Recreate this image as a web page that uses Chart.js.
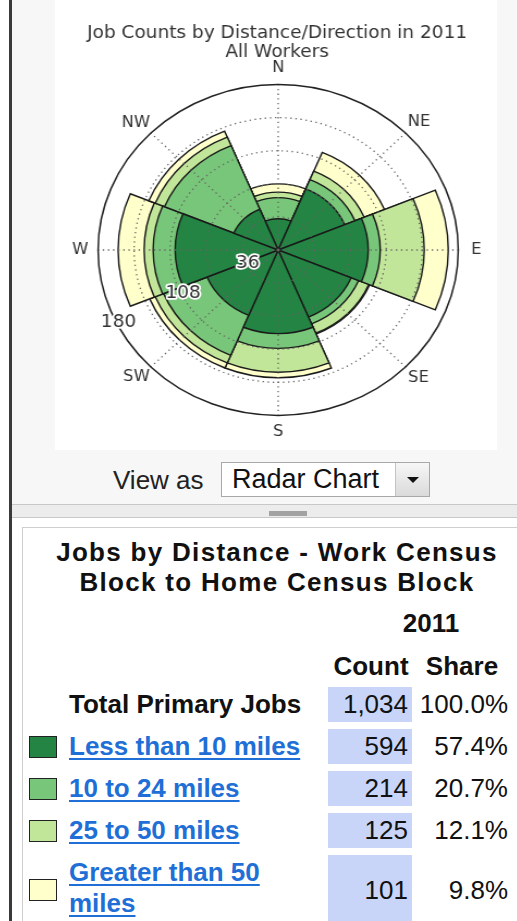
<!DOCTYPE html>
<html>
<head>
<meta charset="utf-8">
<script src="https://cdn.jsdelivr.net/npm/chart.js@4.4.1/dist/chart.umd.min.js"></script>
<style>
  html, body { margin: 0; padding: 0; }
  body {
    position: relative;
    width: 517px;
    height: 921px;
    overflow: hidden;
    background: #fff;
    font-family: "Liberation Sans", Arial, sans-serif;
    color: #111;
  }
  .panel { position: absolute; left: 12px; top: 0; width: 505px; height: 504px; background: #f7f7f7; }
  .frame { position: absolute; left: 9px; top: 0; width: 3px; height: 921px; background: #3a3a3a; }
  .plot { position: absolute; left: 55px; top: 0; width: 442px; height: 450px; background: #fff; }
  #rose { display: block; }

  .view-label { position: absolute; left: 113px; top: 465px; font-size: 26px; line-height: 30px; color: #222; }
  .select {
    position: absolute; left: 221px; top: 462px; width: 209px; height: 35px;
    box-sizing: border-box; border: 1px solid #a8a8a8; background: #fff;
  }
  .select span { position: absolute; left: 10px; top: 1px; font-size: 27px; line-height: 31px; color: #111; }
  .select .btn {
    position: absolute; right: 0; top: 0; width: 33px; height: 33px;
    border-left: 1px solid #c4c4c4; background: linear-gradient(#f6f6f6, #dadada);
  }
  .select .btn i {
    position: absolute; left: 11px; top: 14px; width: 0; height: 0;
    border-left: 6px solid transparent; border-right: 6px solid transparent; border-top: 6px solid #111;
  }

  .split { position: absolute; left: 12px; top: 504px; width: 505px; height: 12px; background: #ececec;
    border-top: 1px solid #c8c8c8; border-bottom: 1px solid #c8c8c8; }
  .grip { position: absolute; left: 257px; top: 6px; width: 38px; height: 5px; background: #a2a2a2; }

  .box { position: absolute; left: 22px; top: 527px; width: 520px; height: 420px;
    border: 1px solid #cfcfcf; background: #fff; }

  .heading { position: absolute; left: 22px; top: 537px; width: 510px; text-align: center;
    font-weight: bold; font-size: 26px; line-height: 30px; letter-spacing: 1.3px; }
  .year { position: absolute; left: 395px; top: 608px; width: 72px; text-align: center;
    font-weight: bold; font-size: 26px; line-height: 30px; }
  .colhead { position: absolute; top: 651px; width: 100px; text-align: center;
    font-weight: bold; font-size: 26px; line-height: 30px; }

  .row { position: absolute; left: 0; width: 517px; }
  .row .name { position: absolute; left: 69px; width: 252px; font-weight: bold; font-size: 26px; }
  .row .name a { color: #1f6fd6; text-decoration: underline; text-decoration-thickness: 2px; text-underline-offset: 3px; }
  .row .swatch { position: absolute; left: 29px; width: 26px; height: 20px; border: 1.5px solid #222; }
  .row .count { position: absolute; left: 328px; top: 0; width: 84px; height: 100%; box-sizing: border-box;
    padding-right: 4px; background: #c8d5f9; text-align: right; font-size: 26px; }
  .row .share { position: absolute; left: 412px; top: 0; width: 96px; height: 100%; text-align: right; font-size: 26px; }
</style>
</head>
<body>
<div class="panel"></div>
<div class="frame"></div>
<div class="plot"><canvas id="rose" width="406" height="450" style="width:442px;height:450px"></canvas></div>

<div class="view-label">View as</div>
<div class="select"><span>Radar Chart</span><div class="btn"><i></i></div></div>

<div class="split"><div class="grip"></div></div>
<div class="box"></div>

<div class="heading">Jobs by Distance - Work Census<br>Block to Home Census Block</div>
<div class="year">2011</div>
<div class="colhead" style="left:321px">Count</div>
<div class="colhead" style="left:412px">Share</div>
<div id="rows"></div>

<script>
const DIRECTIONS = ['N', 'NE', 'E', 'SE', 'S', 'SW', 'W', 'NW'];

// jobs per direction, one array per distance band
const LESS_THAN_10 = [34, 72, 90, 79, 91, 77, 103, 48];
const FROM_10_TO_24 = [23, 11, 12, 8, 16, 47, 22, 75];
const FROM_25_TO_50 = [6, 10, 44, 11, 26, 9, 9, 10];
const OVER_50 = [9, 22, 24, 1, 6, 6, 26, 7];

const R_MAX = 180;
const R_STEP = 36;
const R_TICK_LABELS = ['36', '108', '180'];

const CATEGORIES = ['Less than 10 miles', '10 to 24 miles', '25 to 50 miles', 'Greater than 50 miles'];
const COUNTS = ['594', '214', '125', '101'];
const SHARES = ['57.4%', '20.7%', '12.1%', '9.8%'];
const TOTAL_COUNT = '1,034';
const TOTAL_SHARE = '100.0%';

const COLORS = ['#238443', '#78c679', '#c2e699', '#ffffcc'];
const LABEL_PAD = [7.5, 2.8, 11.75, 3.4, 7.5, 1.5, 9.1, 0.9];

// cumulative rings, so each band sits on the one inside it
function addUp(a, b) {
  return a.map((v, i) => v + b[i]);
}

const ring1 = LESS_THAN_10;
const ring2 = addUp(ring1, FROM_10_TO_24);
const ring3 = addUp(ring2, FROM_25_TO_50);
const ring4 = addUp(ring3, OVER_50);

const roseExtras = {
  id: 'roseExtras',
  afterDatasetsDraw(chart) {
    const scale = chart.scales.r;
    const ctx = chart.ctx;
    ctx.save();
    ctx.strokeStyle = '#666';
    ctx.lineWidth = 1.3;
    ctx.setLineDash([1.3, 3.4]);
    DIRECTIONS.forEach((d, i) => {
      const end = scale.getPointPosition(i, scale.drawingArea, Math.PI / DIRECTIONS.length);
      ctx.beginPath();
      ctx.moveTo(scale.xCenter, scale.yCenter);
      ctx.lineTo(end.x, end.y);
      ctx.stroke();
    });
    ctx.restore();
  },
  afterDraw(chart) {
    const scale = chart.scales.r;
    const ctx = chart.ctx;
    ctx.save();
    ctx.font = '17px "DejaVu Sans"';
    ctx.textAlign = 'center';
    ctx.textBaseline = 'middle';
    ctx.lineJoin = 'round';
    R_TICK_LABELS.forEach((label) => {
      const dist = scale.getDistanceFromCenterForValue(Number(label) - 2);
      const p = scale.getPointPosition(0, dist, -Math.PI / 2 - Math.PI / 48);
      ctx.strokeStyle = '#fff';
      ctx.lineWidth = 3.5;
      ctx.strokeText(label, p.x, p.y);
      ctx.fillStyle = '#333';
      ctx.fillText(label, p.x, p.y);
    });
    ctx.restore();
  },
};

function ringDataset(label, data, color) {
  return {
    label: label,
    data: data,
    backgroundColor: color,
    borderColor: '#1a1a1a',
    borderWidth: 1.4,
    borderJoinStyle: 'miter',
  };
}

new Chart(document.getElementById('rose'), {
  type: 'polarArea',
  data: {
    labels: DIRECTIONS,
    datasets: [
      ringDataset(CATEGORIES[0], ring1, COLORS[0]),
      ringDataset(CATEGORIES[1], ring2, COLORS[1]),
      ringDataset(CATEGORIES[2], ring3, COLORS[2]),
      ringDataset(CATEGORIES[3], ring4, COLORS[3]),
    ],
  },
  options: {
    responsive: false,
    animation: false,
    events: [],
    layout: { padding: { left: 12, right: 10, top: 0, bottom: 8 } },
    plugins: {
      legend: { display: false },
      tooltip: { enabled: false },
      title: {
        display: true,
        text: ['Job Counts by Distance/Direction in 2011', 'All Workers'],
        color: '#333',
        font: { family: 'DejaVu Sans', size: 17, weight: 'normal', lineHeight: 1.12 },
        padding: { top: 24.5, bottom: -3.5 },
      },
    },
    scales: {
      r: {
        min: 0,
        max: R_MAX,
        // half a sector back, so each wedge is centred on its compass point
        startAngle: -180 / DIRECTIONS.length,
        ticks: { display: false, stepSize: R_STEP },
        angleLines: { display: false },
        grid: {
          z: 1,
          circular: true,
          color: (ctx) => (ctx.tick && ctx.tick.value === R_MAX ? '#222' : '#666'),
          lineWidth: (ctx) => (ctx.tick && ctx.tick.value === R_MAX ? 1.5 : 1.3),
        },
        border: {
          dash: (ctx) => (ctx.tick && ctx.tick.value === R_MAX ? [] : [1.3, 3.4]),
        },
        pointLabels: {
          display: true,
          centerPointLabels: true,
          color: '#333',
          font: { family: 'DejaVu Sans', size: 15 },
          padding: (ctx) => LABEL_PAD[ctx.index],
        },
      },
    },
  },
  plugins: [roseExtras],
});

// table below the chart
const ROW_TOPS = [729, 771, 813, 855];
const ROW_HEIGHTS = [35, 35, 35, 70];
const rowsEl = document.getElementById('rows');

let html = '<div class="row" style="top:687px;height:35px;line-height:35px">' +
  '<div class="name" style="color:#111">Total Primary Jobs</div>' +
  '<div class="count">' + TOTAL_COUNT + '</div>' +
  '<div class="share">' + TOTAL_SHARE + '</div></div>';

CATEGORIES.forEach((name, i) => {
  const h = ROW_HEIGHTS[i];
  const twoLines = h > 40;
  html += '<div class="row" style="top:' + ROW_TOPS[i] + 'px;height:' + h + 'px;line-height:' + h + 'px">' +
    '<div class="swatch" style="top:' + (h / 2 - 11) + 'px;background:' + COLORS[i] + '"></div>' +
    '<div class="name" style="' + (twoLines ? 'top:2px;line-height:31px' : '') + '"><a>' + name + '</a></div>' +
    '<div class="count">' + COUNTS[i] + '</div>' +
    '<div class="share">' + SHARES[i] + '</div></div>';
});
rowsEl.innerHTML = html;
</script>
</body>
</html>
